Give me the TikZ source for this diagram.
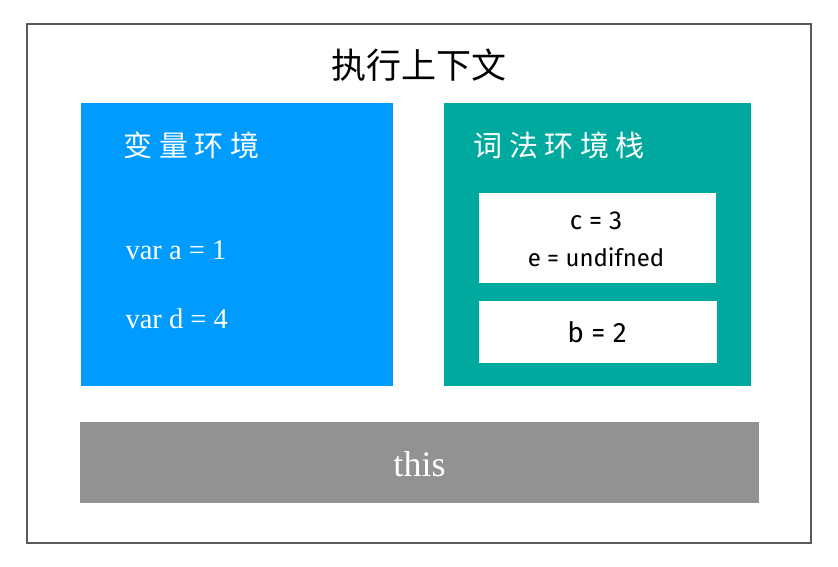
\documentclass[tikz,border=0pt]{standalone}
\usepackage{fontspec}
\setmainfont{Liberation Serif}
\newfontfamily\cjk{Noto Sans CJK SC}
\newfontfamily\handfont{Fira Sans}
\definecolor{envblue}{HTML}{009BFF}
\definecolor{envteal}{HTML}{00A99D}
\definecolor{thisgray}{HTML}{929292}
\definecolor{framegray}{HTML}{5A5A5A}
\newcommand{\gap}{\hspace{6.5pt}}
\begin{document}
\begin{tikzpicture}[x=1pt,y=-1pt,
  panel/.style={inner sep=0pt, outer sep=0pt},
  cjktitle/.style={font=\cjk\fontsize{35}{40}\selectfont, text=black},
  cjklabel/.style={font=\cjk\fontsize{29}{34}\selectfont, text=white, anchor=west},
  code/.style={font=\fontsize{28.5}{34}\selectfont, text=white, anchor=west},
  slot/.style={font=\handfont\fontsize{24}{28}\selectfont, text=black, align=center}]
\useasboundingbox (0,0) rectangle (838,566);
\draw[framegray, line width=1.6pt] (27,24) rectangle (811,543);
\node[panel, fill=envblue, minimum width=312pt, minimum height=283pt] (ve) at (237,244.5) {};
\node[panel, fill=envteal, minimum width=307pt, minimum height=283pt] (le) at (597.5,244.5) {};
\node[panel, fill=white, minimum width=237pt, minimum height=90pt] (s1) at (597.5,238) {};
\node[panel, fill=white, minimum width=238pt, minimum height=62pt] (s2) at (598,332) {};
\node[panel, fill=thisgray, minimum width=679pt, minimum height=81pt] (th) at (419.5,462.5) {};
\node[cjktitle] (title) at (419,65) {执行上下文};
\node[cjklabel] (velabel) at (120,145) {变\gap 量\gap 环\gap 境};
\node[cjklabel] (lelabel) at (470,145) {词\gap 法\gap 环\gap 境\gap 栈};
\node[code] (va) at (122,250) {var a = 1};
\node[code] (vd) at (122,319) {var d = 4};
\node[slot, font=\handfont\fontsize{26}{30}\selectfont] (c3) at (596,221) {c = 3};
\node[slot] (eu) at (596,257) {e = undifned};
\node[slot, font=\handfont\fontsize{28}{32}\selectfont] (b2) at (597,332) {b = 2};
\node[font=\fontsize{36}{40}\selectfont, text=white] (thislabel) at (419.5,464) {this};
\end{tikzpicture}
\end{document}
